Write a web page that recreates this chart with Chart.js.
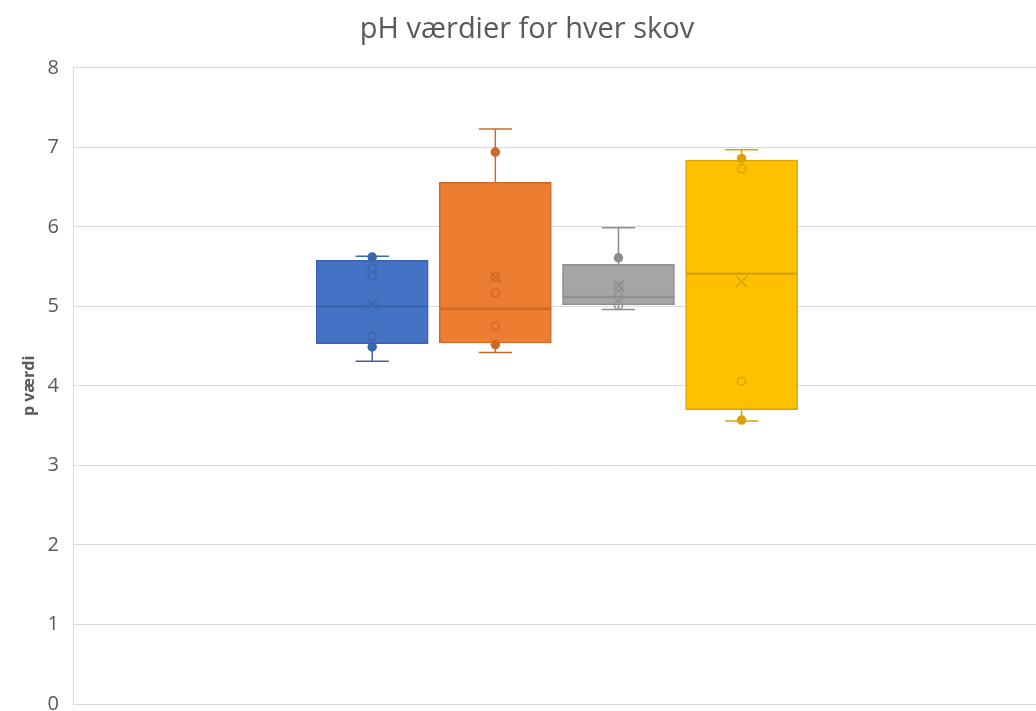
<!DOCTYPE html>
<html><head><meta charset="utf-8">
<script src="https://cdn.jsdelivr.net/npm/chart.js@4.4.0/dist/chart.umd.min.js"></script>
<style>
html,body{margin:0;padding:0;background:#fff;overflow:hidden;}
#wrap{width:1054px;height:740px;position:relative;}
</style></head><body>
<div id="wrap"><canvas id="c"></canvas></div>
<script>
// ===== DATA =====
const skove    = ['Skov 1','Skov 2','Skov 3','Skov 4'];
const minV     = [4.31, 4.42, 4.96, 3.56];
const q1V      = [4.53, 4.54, 5.02, 3.70];
const medV     = [5.00, 4.97, 5.12, 5.41];
const q3V      = [5.58, 6.56, 5.53, 6.84];
const maxV     = [5.63, 7.23, 5.99, 6.97];
const meanV    = [5.03, 5.37, 5.26, 5.31];
const filledPts = [[5.62, 4.49], [6.94, 4.52], [5.61], [6.86, 3.57]];
const hollowPts = [[5.48, 5.38, 4.62], [5.37, 5.17, 4.75], [5.25, 5.13, 5.01], [6.73, 4.06]];
const yMin = 0, yMax = 8, yStep = 1;

// ===== STYLE =====
const FILL = ['#4472C4','#ED7D31','#A5A5A5','#FFC000'];
const LINE = ['#3A64AE','#CD6A27','#8E8E8E','#D9A400'];
const CAP = 0.135;   // half width of whisker caps (x units)
const TXT = '#595959';

// ===== BUILD DATASETS =====
const datasets = [];
skove.forEach((name, i) => {
  const x = i + 1;
  // box: two floating bars q1->median, median->q3
  datasets.push({
    type:'bar', label:name, order:4, grouped:false,
    data:[{x, y:[q1V[i], medV[i]]}, {x, y:[medV[i], q3V[i]]}],
    backgroundColor:FILL[i], borderColor:LINE[i], borderWidth:1.5, borderSkipped:false,
    barThickness:112
  });
  // whiskers + caps
  datasets.push({
    type:'line', label:name+' whisker', order:3,
    data:[
      {x, y:q3V[i]}, {x, y:maxV[i]}, {x, y:null},
      {x:x-CAP, y:maxV[i]}, {x:x+CAP, y:maxV[i]}, {x, y:null},
      {x, y:q1V[i]}, {x, y:minV[i]}, {x, y:null},
      {x:x-CAP, y:minV[i]}, {x:x+CAP, y:minV[i]}
    ],
    borderColor:LINE[i], borderWidth:1.5, pointRadius:0, spanGaps:false, fill:false
  });
  // inner points
  datasets.push({
    type:'scatter', label:name+' points', order:2,
    data:hollowPts[i].map(v => ({x, y:v})),
    pointStyle:'circle', pointRadius:4, pointBorderWidth:1.5,
    pointBackgroundColor:'rgba(0,0,0,0)', pointBorderColor:LINE[i]
  });
  datasets.push({
    type:'scatter', label:name+' points2', order:2,
    data:filledPts[i].map(v => ({x, y:v})),
    pointStyle:'circle', pointRadius:4, pointBorderWidth:1.5,
    pointBackgroundColor:LINE[i], pointBorderColor:LINE[i]
  });
  // mean marker
  datasets.push({
    type:'scatter', label:name+' mean', order:1,
    data:[{x, y:meanV[i]}],
    pointStyle:'crossRot', pointRadius:8, pointBorderWidth:1.5,
    pointBorderColor:LINE[i], pointBackgroundColor:LINE[i]
  });
});

new Chart(document.getElementById('c'), {
  data:{ datasets },
  options:{
    responsive:true, maintainAspectRatio:false, animation:false,
    layout:{ padding:{ left:0, right:0, top:0, bottom:36 } },
    plugins:{
      legend:{ display:false },
      tooltip:{ enabled:false },
      title:{
        display:true, text:'pH værdier for hver skov', color:TXT,
        font:{ family:'"Open Sans", sans-serif', size:29, weight:'normal' },
        padding:{ top:12, bottom:21 }
      }
    },
    scales:{
      x:{ type:'linear', min:-1.43, max:6.46, offset:false, display:false },
      y:{
        min:yMin, max:yMax,
        afterFit: s => { s.width = 73; },
        ticks:{ stepSize:yStep, color:TXT, padding:14,
          font:{ family:'"Open Sans", sans-serif', size:20 } },
        grid:{ color:'#D9D9D9', lineWidth:1, drawTicks:false },
        border:{ display:true, color:'#D9D9D9', width:1 },
        title:{ display:true, text:'p værdi', color:TXT,
          font:{ family:'"Open Sans", sans-serif', size:16, weight:'bold' },
          padding:{ top:20, bottom:0 } }
      }
    }
  }
});
</script>
</body></html>
